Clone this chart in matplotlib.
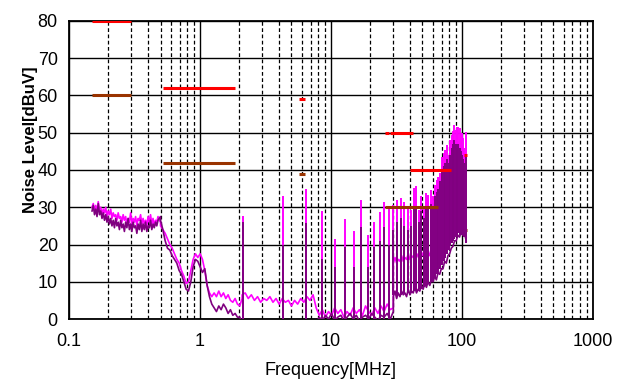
import numpy as np
import matplotlib.pyplot as plt

plt.rcParams['font.family'] = ['Liberation Sans', 'DejaVu Sans']

# measured traces, sampled on log spaced frequency grids per segment [MHz] -> [dBuV]
mag_a = [30.0, 31.0, 29.0, 30.5, 28.5, 31.5, 29.0, 30.0, 28.0, 29.5, 28.5, 30.0, 27.5, 29.0, 28.0, 29.5,
         27.0, 28.5, 27.5, 28.0, 26.5, 28.5, 27.0, 27.5, 26.0, 28.0, 26.5, 27.5, 25.5, 27.0, 26.0, 28.5,
         25.5, 27.0, 26.0, 27.5, 25.0, 27.0, 26.5, 28.0, 25.5, 27.0, 25.5, 26.5, 25.0, 27.5, 26.0, 28.0,
         25.5, 27.0, 25.0, 26.5, 26.0, 27.5, 26.5, 26.0]
pur_a = [29.0, 30.5, 28.0, 29.5, 27.5, 31.0, 28.0, 29.0, 27.0, 28.5, 26.5, 28.0, 26.0, 27.5, 25.5, 27.0,
         25.0, 26.5, 24.5, 27.0, 25.0, 26.0, 24.0, 26.5, 24.5, 25.5, 23.5, 26.0, 24.5, 27.0, 24.0, 25.5,
         23.5, 26.0, 24.5, 25.0, 23.0, 25.5, 24.0, 26.5, 23.5, 25.5, 24.0, 26.0, 23.5, 25.0, 24.5, 26.5,
         24.0, 25.5, 24.5, 26.0, 25.0, 26.5, 27.0, 27.5]
mag_b = [25.0, 24.0, 23.0, 21.5, 20.0, 19.0, 17.5, 16.0, 15.0, 13.0, 11.5, 9.5, 10.0, 13.0, 16.0, 17.5,
         16.5, 17.5, 16.0, 13.0, 9.0, 7.0, 6.0, 7.0, 6.0, 7.5, 6.0, 7.0, 5.5, 6.5, 5.0, 4.5, 5.5, 4.0, 3.5, 5.5]
pur_b = [26.5, 24.0, 21.0, 19.0, 18.5, 17.0, 16.0, 15.0, 13.0, 12.0, 10.0, 8.0, 7.5, 10.0, 14.0, 16.0,
         15.5, 14.0, 12.5, 13.5, 9.0, 6.0, 4.0, 3.0, 2.0, 3.5, 2.5, 4.0, 3.0, 1.5, 2.5, 1.0, 1.5, 0.5, 0.5, -1.0]
mag_c = [6.5, 7.0, 5.5, 6.5, 5.0, 6.0, 4.5, 5.5, 5.0, 6.0, 4.5, 5.5, 4.0, 5.5, 4.5, 5.0, 3.5, 5.0,
         4.0, 5.5, 4.5, 6.0, 5.0, 6.5, 3.0, 1.0, 2.5, 0.5, 2.0, 1.0, 3.0, 1.5, 2.5, 0.5, 2.0, 1.0,
         3.0, 1.5, 2.5, 1.0, 3.5, 2.0, 1.0, 3.0, 1.5, 3.5, 2.0, 4.0, 2.5, 3.0]
pur_c = [-1.0, -2.0, -2.0, -2.0, -2.0, -2.0, -2.0, -2.0, -2.0, -2.0, -2.0, -2.0, -2.0, -2.0, -2.0, -2.0,
         -2.0, -2.0, -2.0, -2.0, -2.0, -2.0, -2.0, -2.0, -1.0, 0.5, -0.5, 1.0, 0.0, 1.5, -0.5, 0.5,
         1.0, -0.5, 0.5, 1.5, 0.0, 1.0, -0.5, 0.5, 1.0, 0.0, 1.5, 0.5, -0.5, 1.0, 0.5, 1.5, 0.0, 2.0]
mag_d = [15.0, 16.5, 15.0, 16.0, 15.5, 17.0, 15.5, 16.5, 16.0, 17.5, 16.0, 17.0, 16.5, 18.0, 16.5,
         17.5, 16.5, 18.0, 17.0, 17.5, 17.0, 18.5, 17.0, 18.0, 17.5, 19.0, 18.0, 19.0, 18.5, 19.5,
         19.5, 20.5, 20.5, 21.5, 22.0, 23.0, 23.0, 24.5, 24.0, 25.0, 24.5, 25.5, 24.5, 25.0, 22.0]
pur_d = [6.0, 7.5, 5.5, 7.0, 6.0, 7.5, 6.5, 7.0, 6.0, 8.0, 6.5, 7.5, 7.0, 8.5, 7.0, 8.0, 7.5, 9.0,
         8.0, 9.5, 8.5, 10.0, 9.0, 10.5, 10.0, 11.5, 10.5, 12.5, 12.0, 13.5, 13.5, 15.5, 15.0, 17.0,
         17.5, 19.0, 19.5, 21.0, 21.0, 22.5, 22.0, 23.5, 22.5, 23.0, 21.0]
seg_edges = [(0.15, 0.5), (0.5, 2.1), (2.1, 30.0), (30.0, 108.0)]

# harmonic spikes: frequency, magenta peak, purple peak, base level
spike_f = [2.14, 4.28, 6.42, 8.56, 10.7, 12.84, 14.98, 17.12, 19.26, 21.4, 23.54, 25.68, 27.82, 29.96,
           32.1, 34.24, 36.38, 38.52, 40.66, 42.8, 44.94, 47.08, 49.22, 51.36, 53.5, 55.64, 57.78,
           59.92, 62.06, 64.2, 66.34, 68.48, 70.62, 72.76, 74.9, 77.04, 79.18, 81.32, 83.46, 85.6,
           87.74, 89.88, 92.02, 94.16, 96.3, 98.44, 100.58, 102.72, 104.86, 107.0]
spike_mag = [27.7, 33.0, 35.0, 29.0, 21.4, 26.8, 23.6, 31.9, 22.5, 26.1, 28.8, 31.5, 29.4, 30.5,
             31.9, 32.4, 31.5, 29.5, 29.2, 35.1, 35.7, 29.2, 33.0, 30.0, 33.7, 33.3, 34.6, 33.0,
             36.0, 37.3, 38.2, 39.1, 43.6, 44.5, 45.4, 46.7, 44.0, 48.0, 49.4, 50.5, 52.0, 50.7,
             51.6, 51.6, 51.2, 50.0, 49.8, 48.5, 46.0, 50.3]
spike_pur = [26.0, 20.0, 25.7, 16.0, 14.0, 19.4, 14.0, 24.8, 14.0, 19.4, 21.0, 24.8, 20.0, 24.0,
             26.0, 27.0, 25.0, 24.0, 25.0, 30.0, 30.0, 26.0, 29.0, 27.0, 30.0, 30.0, 31.0, 30.0,
             33.0, 34.0, 35.0, 37.0, 40.0, 41.0, 42.0, 43.0, 42.0, 44.0, 46.0, 47.0, 48.0, 47.0,
             46.0, 47.0, 46.0, 45.0, 44.0, 43.0, 42.0, 44.0]
spike_base = [-1, -1, -1, -1, -1, -1, -1, -1, -1, -1, -1, -1, -1, 6.5,
              6.5, 6.5, 7.0, 7.0, 7.0, 7.5, 7.5, 8.0, 8.0, 8.5, 9.0, 9.5, 10.0, 10.5,
              11.0, 12.0, 12.5, 13.5, 14.5, 15.5, 16.5, 17.5, 18.5, 19.5, 20.5, 21.0,
              21.5, 22.0, 22.5, 23.0, 22.5, 22.5, 23.0, 22.5, 22.0, 20.5]

# limit lines: (f_start, f_end, level)
red_limits = [(0.15, 0.3, 80), (0.525, 1.85, 62), (5.75, 6.3, 59), (25.9, 27.6, 50), (28.4, 42.2, 50),
              (40.3, 83.0, 40), (104.0, 109.0, 44)]
brown_limits = [(0.15, 0.3, 60), (0.525, 1.85, 42), (5.75, 6.3, 39), (26.0, 66.0, 30)]
brown_low = [(70.0, 109.0, 24)]

MAG = '#ff00ff'
PUR = '#800080'
RED = '#ff0000'
BROWN = '#993300'

fig = plt.figure(figsize=(6.34, 3.85), dpi=100)
ax = fig.add_axes([0.1088, 0.1714, 0.8261, 0.7741])

f_all, m_all, p_all = [], [], []
for (lo, hi), m, p in zip(seg_edges, [mag_a, mag_b, mag_c, mag_d], [pur_a, pur_b, pur_c, pur_d]):
    f_all.append(np.geomspace(lo, hi, len(m)))
    m_all.append(m)
    p_all.append(p)
freq = np.concatenate(f_all)
mag = np.concatenate(m_all)
pur = np.concatenate(p_all)

for f0, f1, lv in brown_low:
    ax.plot([f0, f1], [lv, lv], color=BROWN, lw=2.2, solid_capstyle='butt', zorder=2)

ax.plot(freq, mag, color=MAG, lw=1.2, zorder=3)
ax.vlines(spike_f, spike_base, spike_mag, color=MAG, lw=1.4, zorder=3)
ax.plot(freq, pur, color=PUR, lw=1.2, zorder=4)
ax.vlines(spike_f, spike_base, spike_pur, color=PUR, lw=1.4, zorder=4)

for f0, f1, lv in red_limits:
    ax.plot([f0, f1], [lv, lv], color=RED, lw=2.2, solid_capstyle='butt', zorder=5)
for f0, f1, lv in brown_limits:
    ax.plot([f0, f1], [lv, lv], color=BROWN, lw=2.2, solid_capstyle='butt', zorder=5)

ax.set_xscale('log')
ax.set_xlim(0.1, 1000)
ax.set_ylim(0, 80)
ax.set_yticks(range(0, 81, 10))
ax.set_xticks([0.1, 1, 10, 100, 1000])
ax.set_xticklabels(['0.1', '1', '10', '100', '1000'])
ax.set_axisbelow(True)
ax.grid(which='major', color='black', lw=1.0, ls='-')
ax.grid(which='minor', axis='x', color='black', lw=0.9, ls=(0, (3, 2)))
ax.tick_params(which='both', length=0, labelsize=13, pad=8)
ax.tick_params(axis='x', pad=10)
for s in ax.spines.values():
    s.set_linewidth(1.3)

ax.set_xlabel('Frequency[MHz]', fontsize=13, labelpad=9)
ax.set_ylabel('Noise Level[dBuV]', fontsize=12, fontweight='bold')
ax.yaxis.set_label_coords(-0.06, 0.6)

fig.savefig('out.png', dpi=100)
